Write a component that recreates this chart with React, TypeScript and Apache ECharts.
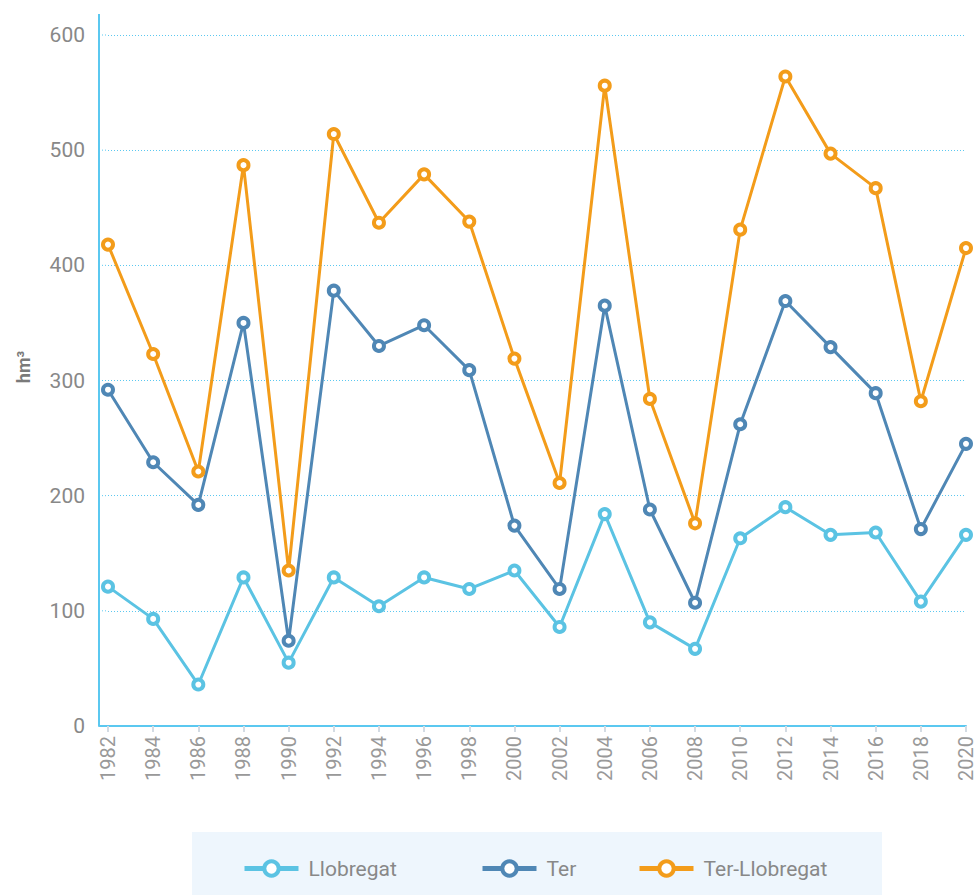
import React, { useEffect, useRef } from "react";
import * as echarts from "echarts";

const years = ["1982","1984","1986","1988","1990","1992","1994","1996","1998","2000","2002","2004","2006","2008","2010","2012","2014","2016","2018","2020"];
const llobregat = [121, 93, 36, 129, 55, 129, 104, 129, 119, 135, 86, 184, 90, 67, 163, 190, 166, 168, 108, 166];
const ter = [292, 229, 192, 350, 74, 378, 330, 348, 309, 174, 119, 365, 188, 107, 262, 369, 329, 289, 171, 245];
const terLlobregat = [418, 323, 221, 487, 135, 514, 437, 479, 438, 319, 211, 556, 284, 176, 431, 564, 497, 467, 282, 415];
const yTicks = [0, 100, 200, 300, 400, 500, 600];
const names = ["Llobregat", "Ter", "Ter-Llobregat"];
const colors = ["#5bc3e3", "#4f87b5", "#f39c1a"];

const FONT = "Roboto, 'Noto Sans', sans-serif";
const AXIS_COLOR = "#5bc8f0";

export default function App() {
  const ref = useRef<HTMLDivElement>(null);
  useEffect(() => {
    if (!ref.current) return;
    const chart = echarts.init(ref.current, undefined, { renderer: "svg" });
    const data = [llobregat, ter, terLlobregat];
    const legendLefts = [242, 480, 637];
    const AXIS_X = 99;
    const baseGraphic: any[] = [
      { type: "rect", z: -10, shape: { x: 192, y: 832, width: 690, height: 63 }, style: { fill: "#eef6fd" } },
      { type: "line", shape: { x1: AXIS_X, y1: 14, x2: AXIS_X, y2: 36 }, style: { stroke: AXIS_COLOR, lineWidth: 2 } },
      {
        type: "text", x: 23, y: 367, rotation: Math.PI / 2,
        style: { text: "hm³", fill: "#7a7a7a", font: `bold 18px ${FONT}`, align: "center", verticalAlign: "middle" },
      },
    ];
    chart.setOption({
      animation: false,
      textStyle: { fontFamily: FONT },
      graphic: baseGraphic,
      grid: { left: 108, right: 13, top: 35, bottom: 169, containLabel: false },
      legend: names.map((n, i) => ({
        data: [n],
        left: legendLefts[i],
        top: 858,
        padding: 0,
        itemWidth: 54,
        itemHeight: 18,
        itemGap: 12,
        textStyle: { fontSize: 21, color: "#888", fontFamily: FONT, padding: [0, 0, 0, 5] },
        lineStyle: { width: 5 },
        itemStyle: { color: "#fff", borderColor: colors[i], borderWidth: 4 },
      })),
      xAxis: {
        type: "category",
        boundaryGap: false,
        data: years,
        axisLine: { lineStyle: { color: AXIS_COLOR, width: 2 } },
        axisTick: { show: true, length: 6, lineStyle: { color: "#d3dbe3", width: 2 } },
        axisLabel: { rotate: 90, fontSize: 20, color: "#999", margin: 10, fontFamily: FONT },
        splitLine: { show: false },
      },
      yAxis: {
        type: "value",
        min: yTicks[0],
        max: yTicks[yTicks.length - 1],
        interval: yTicks[1] - yTicks[0],
        offset: 9,
        axisLine: { show: true, lineStyle: { color: AXIS_COLOR, width: 2 } },
        axisTick: { show: false },
        axisLabel: { fontSize: 21, color: "#888", margin: 14, fontFamily: FONT },
        splitLine: { show: true, lineStyle: { color: AXIS_COLOR, type: [1, 2], width: 1 } },
      },
      series: names.map((n, i) => ({
        name: n,
        type: "line",
        data: data[i],
        symbol: "circle",
        symbolSize: 10,
        color: colors[i],
        lineStyle: { color: colors[i], width: 3 },
        itemStyle: { color: "#fff", borderColor: colors[i], borderWidth: 4 },
      })),
    });
    const gridLeft = 108;
    const extra: any[] = yTicks.map((v) => {
      const y = chart.convertToPixel({ yAxisIndex: 0 }, v) as number;
      if (v === 0) {
        return { type: "line", shape: { x1: AXIS_X, y1: y, x2: gridLeft, y2: y }, style: { stroke: AXIS_COLOR, lineWidth: 2 } };
      }
      return { type: "line", shape: { x1: AXIS_X, y1: y, x2: gridLeft, y2: y }, style: { stroke: AXIS_COLOR, lineWidth: 1, lineDash: [1, 2] } };
    });
    chart.setOption({ graphic: [...baseGraphic, ...extra] });
    return () => chart.dispose();
  }, []);
  return <div ref={ref} style={{ position: "absolute", left: 0, top: 0, width: 979, height: 895 }} />;
}
